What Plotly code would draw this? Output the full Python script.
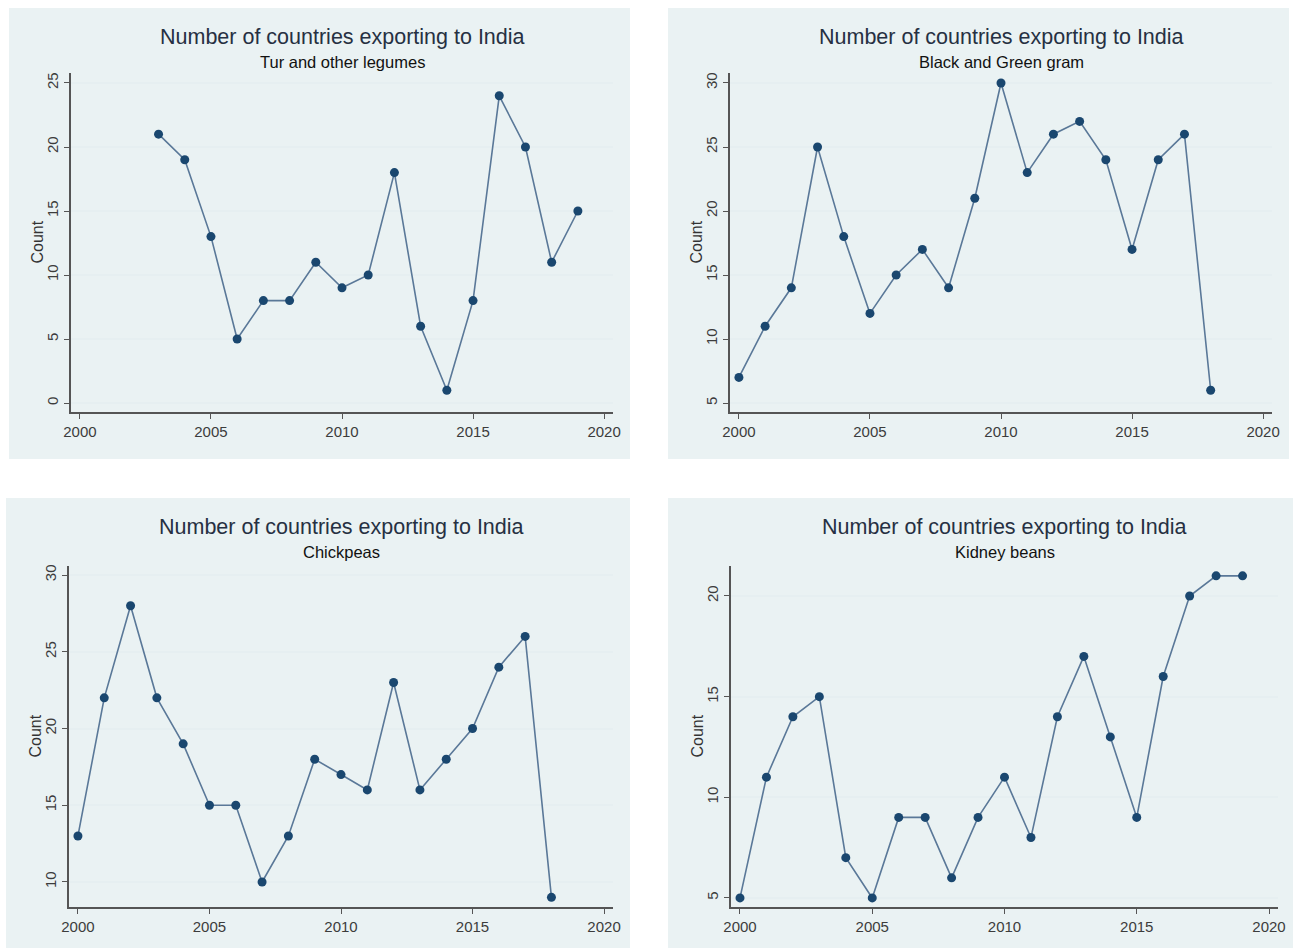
import plotly.graph_objects as go

# Figure size in pixels
W, H = 1293, 948

# ---- data: number of countries exporting each pulse to India ----
tur_years = list(range(2003, 2020))
tur_counts = [21, 19, 13, 5, 8, 8, 11, 9, 10, 18, 6, 1, 8, 24, 20, 11, 15]

gram_years = list(range(2000, 2019))
gram_counts = [7, 11, 14, 25, 18, 12, 15, 17, 14, 21, 30, 23, 26, 27, 24, 17, 24, 26, 6]

chickpea_years = list(range(2000, 2019))
chickpea_counts = [13, 22, 28, 22, 19, 15, 15, 10, 13, 18, 17, 16, 23, 16, 18, 20, 24, 26, 9]

kidney_years = list(range(2000, 2020))
kidney_counts = [5, 11, 14, 15, 7, 5, 9, 9, 6, 9, 11, 8, 14, 17, 13, 9, 16, 20, 21, 21]

title_text = "Number of countries exporting to India"
subtitles = ["Tur and other legumes", "Black and Green gram", "Chickpeas", "Kidney beans"]
y_title = "Count"
x_ticks = [2000, 2005, 2010, 2015, 2020]

# Panel layout in pixels: background box, plot box, y range, y ticks
panels = [
    dict(years=tur_years, counts=tur_counts, sub=subtitles[0],
         bg=(9, 8, 630, 459), plot=(71, 73, 613, 412),
         yr=(-0.70, 25.78), yt=[0, 5, 10, 15, 20, 25]),
    dict(years=gram_years, counts=gram_counts, sub=subtitles[1],
         bg=(668, 8, 1289, 459), plot=(730, 73, 1272, 412),
         yr=(4.30, 30.78), yt=[5, 10, 15, 20, 25, 30]),
    dict(years=chickpea_years, counts=chickpea_counts, sub=subtitles[2],
         bg=(6, 498, 630, 948), plot=(69, 566, 613, 907),
         yr=(8.37, 30.59), yt=[10, 15, 20, 25, 30]),
    dict(years=kidney_years, counts=kidney_counts, sub=subtitles[3],
         bg=(668, 498, 1293, 948), plot=(731, 566, 1278, 907),
         yr=(4.55, 21.49), yt=[5, 10, 15, 20]),
]

FONT = "Liberation Sans, Arial, sans-serif"
PANEL_BG = "#eaf2f3"
LINE_COLOR = "#5a7898"
MARKER_COLOR = "#1a476f"
AXIS_COLOR = "#555555"
TICK_FONT = dict(family=FONT, size=15, color="#3c3c3c")


def px_x(v):
    return v / W


def px_y(v):
    return 1 - v / H


fig = go.Figure()
shapes = []
annotations = []
layout_axes = {}

for i, p in enumerate(panels, start=1):
    xa = "x" if i == 1 else f"x{i}"
    ya = "y" if i == 1 else f"y{i}"
    fig.add_trace(go.Scatter(
        x=p["years"], y=p["counts"], mode="lines+markers",
        line=dict(color=LINE_COLOR, width=1.6),
        marker=dict(color=MARKER_COLOR, size=9),
        xaxis=xa, yaxis=ya, showlegend=False,
        hovertemplate="%{x}: %{y}<extra></extra>",
    ))

    bx0, by0, bx1, by1 = p["bg"]
    shapes.append(dict(type="rect", xref="paper", yref="paper",
                       x0=px_x(bx0), x1=px_x(bx1), y0=px_y(by1), y1=px_y(by0),
                       fillcolor=PANEL_BG, line=dict(width=0), layer="below"))

    x0, y0, x1, y1 = p["plot"]
    xkey = "xaxis" if i == 1 else f"xaxis{i}"
    ykey = "yaxis" if i == 1 else f"yaxis{i}"
    layout_axes[xkey] = dict(
        domain=[px_x(x0), px_x(x1)], anchor=ya, range=[1999.66, 2020.34],
        tickvals=x_ticks, ticks="outside", ticklen=5, tickcolor=AXIS_COLOR,
        showline=True, linecolor=AXIS_COLOR, linewidth=1.5, showgrid=False,
        zeroline=False, tickfont=TICK_FONT, automargin=False,
    )
    layout_axes[ykey] = dict(
        domain=[px_y(y1), px_y(y0)], anchor=xa, range=list(p["yr"]),
        tickvals=p["yt"], ticks="outside", ticklen=5, tickcolor=AXIS_COLOR,
        tickangle=-90, showline=True, linecolor=AXIS_COLOR, linewidth=1.5,
        showgrid=True, gridcolor="#e6eff1", gridwidth=1.5, zeroline=False,
        tickfont=TICK_FONT, automargin=False,
    )

    # y-axis title, placed beside the tick labels
    annotations.append(dict(text=y_title, xref="paper", yref="paper",
                            x=px_x(x0 - 34), y=px_y((y0 + y1) / 2),
                            xanchor="center", yanchor="middle", textangle=-90,
                            showarrow=False,
                            font=dict(family=FONT, size=16, color="#333333")))

    cx = px_x((x0 + x1) / 2)
    annotations.append(dict(text=title_text, xref="paper", yref="paper", x=cx,
                            y=px_y(by0 + 29), xanchor="center", yanchor="middle",
                            showarrow=False,
                            font=dict(family=FONT, size=21.5, color="#263042")))
    annotations.append(dict(text=p["sub"], xref="paper", yref="paper", x=cx,
                            y=px_y(by0 + 54), xanchor="center", yanchor="middle",
                            showarrow=False,
                            font=dict(family=FONT, size=16.5, color="#111111")))

fig.update_layout(
    width=W, height=H, margin=dict(l=0, r=0, t=0, b=0),
    paper_bgcolor="white", plot_bgcolor="white",
    shapes=shapes, annotations=annotations, **layout_axes,
)

fig.write_html("out.html")
